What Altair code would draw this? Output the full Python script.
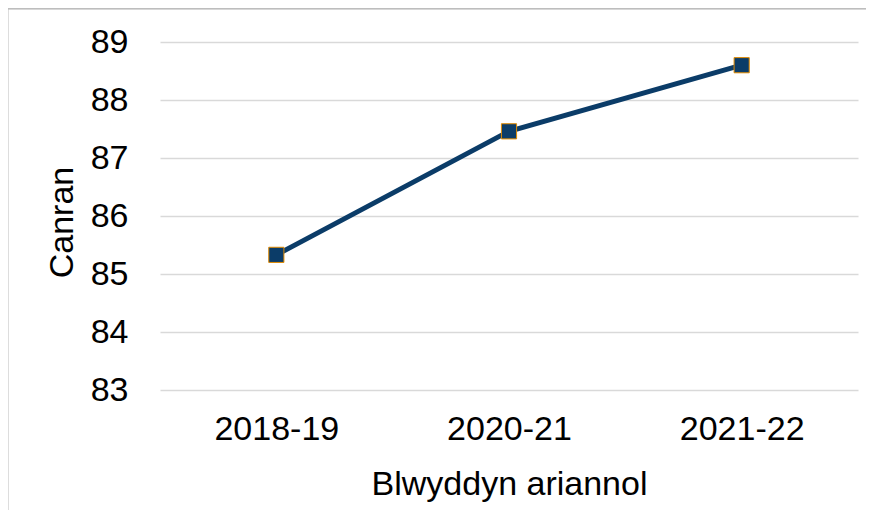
import altair as alt
import pandas as pd

years = ["2018-19", "2020-21", "2021-22"]
values = [85.33, 87.46, 88.6]

df = pd.DataFrame({"Blwyddyn": years, "Canran": values})

FONT = "Liberation Sans"
FS = 34
LINE = "#0B3C68"

base = alt.Chart(df)

x = alt.X(
    "Blwyddyn:N",
    sort=years,
    scale=alt.Scale(type="point", padding=0.5),
    axis=alt.Axis(
        title="Blwyddyn ariannol",
        labelAngle=0,
        domain=False,
        ticks=False,
        grid=False,
        labelPadding=22,
        titlePadding=21,
    ),
)
y = alt.Y(
    "Canran:Q",
    scale=alt.Scale(domain=[83, 89], nice=False, zero=False),
    axis=alt.Axis(
        title="Canran",
        values=[83, 84, 85, 86, 87, 88, 89],
        domain=False,
        ticks=False,
        grid=True,
        gridColor="#D9D9D9",
        gridWidth=1.3,
        labelPadding=32,
        titleX=-88,
        titleY=180,
        titleAngle=-90,
        titleAlign="center",
        titleBaseline="alphabetic",
    ),
)

line = base.mark_line(color=LINE, strokeWidth=5).encode(x=x, y=y)
pts = base.mark_point(
    shape="square", filled=True, size=230, color=LINE, stroke="#E08A00",
    strokeWidth=1, opacity=1
).encode(x=x, y=y)

border_left = base.mark_rule(color="#A6A6A6", strokeWidth=1.3).encode(
    x=alt.value(-152.5), y=alt.value(-33.5), y2=alt.value(500)
)
border_top = base.mark_rule(color="#BDBDBD", strokeWidth=1.3).encode(
    x=alt.value(-152.5), x2=alt.value(720), y=alt.value(-33.5)
)

chart = (
    alt.layer(border_left, border_top, line, pts)
    .properties(
        width=698,
        height=348,
        autosize=alt.AutoSizeParams(type="none"),
        padding={"left": 152, "top": 34, "right": 8, "bottom": 120},
    )
    .configure_view(stroke=None)
    .configure_axis(
        labelFont=FONT,
        titleFont=FONT,
        labelFontSize=FS,
        titleFontSize=FS,
        labelColor="#000000",
        titleColor="#000000",
        titleFontWeight="normal",
    )
)

chart.save("out.html", embed_options={"renderer": "svg", "actions": False})
